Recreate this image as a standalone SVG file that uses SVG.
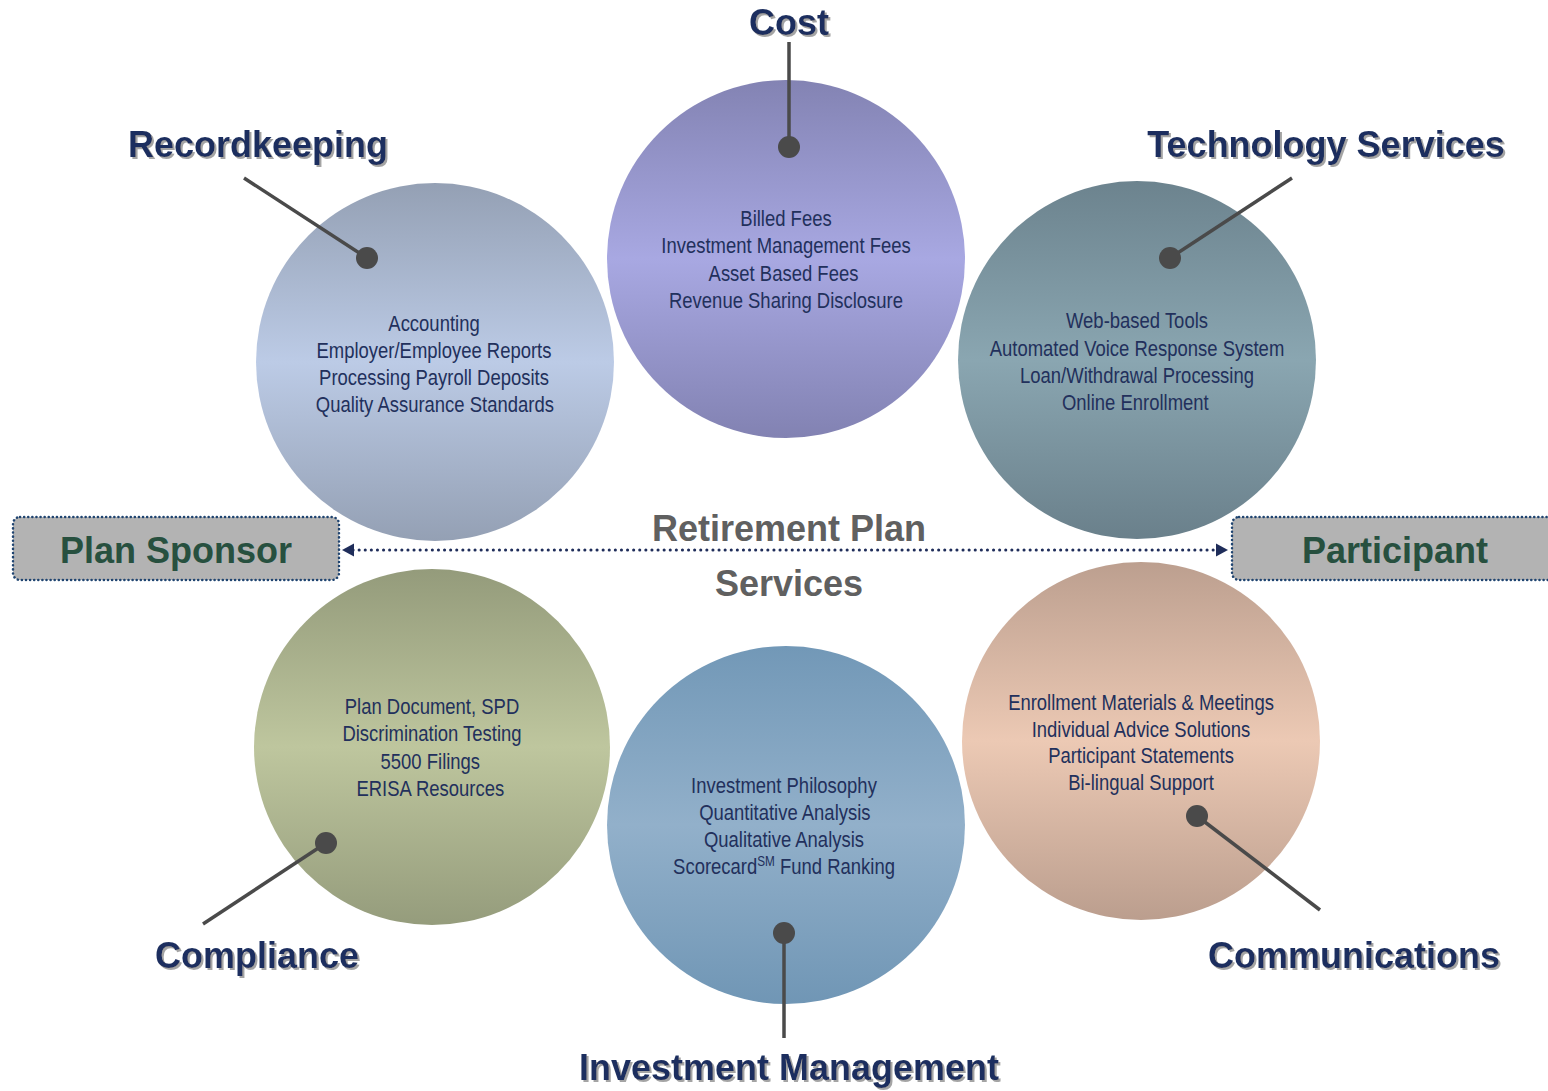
<svg xmlns="http://www.w3.org/2000/svg" width="1548" height="1091" viewBox="0 0 1548 1091">
<style>
.head{font-family:"Liberation Sans",Arial,sans-serif;font-weight:bold;font-size:36px;fill:#1c2f5e;text-anchor:middle;filter:url(#sh)}
.body{font-family:"Liberation Sans",Arial,sans-serif;font-size:22px;fill:#22305c;text-anchor:middle}
.center{font-family:"Liberation Sans",Arial,sans-serif;font-weight:bold;font-size:36px;fill:#606060;text-anchor:middle}
.box{fill:#b3b3b3;stroke:#1f4470;stroke-width:2.5;stroke-dasharray:0.1 4;stroke-linecap:round}
.boxt{font-family:"Liberation Sans",Arial,sans-serif;font-weight:bold;font-size:36px;fill:#27503f;text-anchor:middle}
.lead{stroke:#4a4a4a;stroke-width:3.5;fill:none}
.dot{fill:#4a4a4a}
</style>
<defs>
<filter id="sh" x="-10%" y="-20%" width="130%" height="160%">
<feDropShadow dx="2" dy="2" stdDeviation="0.6" flood-color="#9a9a9a" flood-opacity="0.9"/>
</filter>
<linearGradient id="gCost" x1="0" y1="0" x2="0" y2="1">
<stop offset="0" stop-color="#8383b3"/><stop offset="0.5" stop-color="#a8a8e2"/><stop offset="1" stop-color="#8282b2"/>
</linearGradient>
<linearGradient id="gRec" x1="0" y1="0" x2="0" y2="1">
<stop offset="0" stop-color="#94a0b4"/><stop offset="0.5" stop-color="#bccbe6"/><stop offset="1" stop-color="#94a0b4"/>
</linearGradient>
<linearGradient id="gTech" x1="0" y1="0" x2="0" y2="1">
<stop offset="0" stop-color="#6c838e"/><stop offset="0.5" stop-color="#8aa6b1"/><stop offset="1" stop-color="#6a808b"/>
</linearGradient>
<linearGradient id="gComp" x1="0" y1="0" x2="0" y2="1">
<stop offset="0" stop-color="#949b7b"/><stop offset="0.5" stop-color="#bec69e"/><stop offset="1" stop-color="#959c7c"/>
</linearGradient>
<linearGradient id="gInv" x1="0" y1="0" x2="0" y2="1">
<stop offset="0" stop-color="#7298b7"/><stop offset="0.5" stop-color="#92b0ca"/><stop offset="1" stop-color="#7096b5"/>
</linearGradient>
<linearGradient id="gComm" x1="0" y1="0" x2="0" y2="1">
<stop offset="0" stop-color="#bc9f8f"/><stop offset="0.5" stop-color="#ecc9b4"/><stop offset="1" stop-color="#bb9e8e"/>
</linearGradient>
</defs>
<rect width="1548" height="1091" fill="#ffffff"/>

<g id="cost">
<circle cx="786" cy="259" r="179" fill="url(#gCost)"/>
<text class="body" transform="translate(786 0) scale(0.84 1)"><tspan x="0" y="226">Billed Fees</tspan><tspan x="0" y="253">Investment Management Fees</tspan><tspan x="-3" y="281">Asset Based Fees</tspan><tspan x="0" y="308">Revenue Sharing Disclosure</tspan></text>
<text class="head" x="789" y="35">Cost</text>
</g>

<g id="recordkeeping">
<circle cx="435" cy="362" r="179" fill="url(#gRec)"/>
<text class="body" transform="translate(434 0) scale(0.84 1)"><tspan x="0" y="331">Accounting</tspan><tspan x="0" y="358">Employer/Employee Reports</tspan><tspan x="0" y="385">Processing Payroll Deposits</tspan><tspan x="1" y="412">Quality Assurance Standards</tspan></text>
<text class="head" x="258" y="157">Recordkeeping</text>
</g>

<g id="technology">
<circle cx="1137" cy="360" r="179" fill="url(#gTech)"/>
<text class="body" transform="translate(1137 0) scale(0.84 1)"><tspan x="0" y="328">Web-based Tools</tspan><tspan x="0" y="356">Automated Voice Response System</tspan><tspan x="0" y="383">Loan/Withdrawal Processing</tspan><tspan x="-2" y="410">Online Enrollment</tspan></text>
<text class="head" x="1326" y="157">Technology Services</text>
</g>

<g id="compliance">
<circle cx="432" cy="747" r="178" fill="url(#gComp)"/>
<text class="body" transform="translate(432 0) scale(0.84 1)"><tspan x="0" y="714">Plan Document, SPD</tspan><tspan x="0" y="741">Discrimination Testing</tspan><tspan x="-2" y="769">5500 Filings</tspan><tspan x="-2" y="796">ERISA Resources</tspan></text>
<text class="head" x="257" y="968">Compliance</text>
</g>

<g id="investment">
<circle cx="786" cy="825" r="179" fill="url(#gInv)"/>
<text class="body" transform="translate(784 0) scale(0.84 1)"><tspan x="0" y="793">Investment Philosophy</tspan><tspan x="1" y="820">Quantitative Analysis</tspan><tspan x="0" y="847">Qualitative Analysis</tspan><tspan x="0" y="874">Scorecard<tspan font-size="14" dy="-8">SM</tspan><tspan dy="8"> Fund Ranking</tspan></tspan></text>
<text class="head" x="789" y="1080">Investment Management</text>
</g>

<g id="communications">
<circle cx="1141" cy="741" r="179" fill="url(#gComm)"/>
<text class="body" transform="translate(1141 0) scale(0.84 1)"><tspan x="0" y="710">Enrollment Materials &amp; Meetings</tspan><tspan x="0" y="737">Individual Advice Solutions</tspan><tspan x="0" y="763">Participant Statements</tspan><tspan x="0" y="790">Bi-lingual Support</tspan></text>
<text class="head" x="1354" y="968">Communications</text>
</g>

<g id="plan-sponsor">
<rect class="box" x="13" y="517" width="326" height="63" rx="7"/>
<text class="boxt" x="176" y="563">Plan Sponsor</text>
</g>

<g id="participant">
<rect class="box" x="1232" y="517" width="340" height="63" rx="7"/>
<text class="boxt" x="1395" y="563">Participant</text>
</g>

<g id="retirement-plan-services">
<text class="center" x="789" y="541">Retirement Plan</text>
<text class="center" x="789" y="596">Services</text>
</g>

<g id="connectors">
<line x1="353" y1="550" x2="1218" y2="550" stroke="#1f2d5a" stroke-width="3" stroke-dasharray="0.1 6" stroke-linecap="round"/>
<path d="M342,550 L354,543.5 L354,556.5 z" fill="#1f2d5a"/>
<path d="M1228,550 L1216,543.5 L1216,556.5 z" fill="#1f2d5a"/>
<line class="lead" x1="789" y1="42" x2="789" y2="147"/>
<circle class="dot" cx="789" cy="147" r="11"/>
<line class="lead" x1="244" y1="178" x2="367" y2="258"/>
<circle class="dot" cx="367" cy="258" r="11"/>
<line class="lead" x1="1292" y1="178" x2="1170" y2="258"/>
<circle class="dot" cx="1170" cy="258" r="11"/>
<line class="lead" x1="203" y1="924" x2="326" y2="843"/>
<circle class="dot" cx="326" cy="843" r="11"/>
<line class="lead" x1="784" y1="1038" x2="784" y2="933"/>
<circle class="dot" cx="784" cy="933" r="11"/>
<line class="lead" x1="1320" y1="910" x2="1197" y2="816"/>
<circle class="dot" cx="1197" cy="816" r="11"/>
</g>
</svg>
